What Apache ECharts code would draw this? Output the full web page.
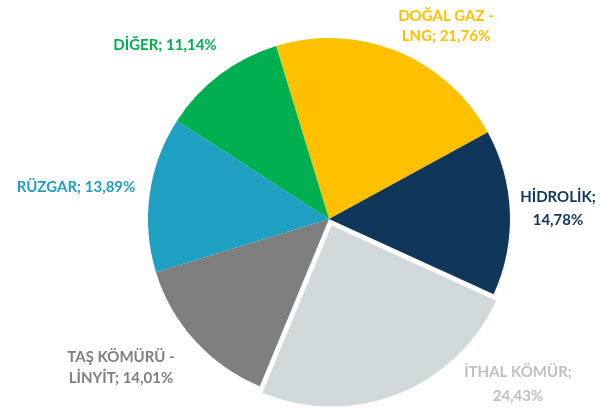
<!DOCTYPE html>
<html>
<head>
<meta charset="utf-8">
<script src="https://cdn.jsdelivr.net/npm/echarts@6/dist/echarts.min.js"></script>
<style>
  html, body { margin: 0; padding: 0; background: #fff; }
  #chart { width: 608px; height: 408px; }
</style>
</head>
<body>
<div id="chart"></div>
<script>
// veri
const names = ['DOĞAL GAZ -\nLNG', 'HİDROLİK', 'İTHAL KÖMÜR', 'TAŞ KÖMÜRÜ -\nLİNYİT', 'RÜZGAR', 'DİĞER'];
const values = [21.76, 14.78, 24.43, 14.01, 13.89, 11.14];
const valueText = ['21,76', '14,78', '24,43', '14,01', '13,89', '11,14'];
const colors = ['#FFC000', '#10375A', '#D1D9DB', '#7F7F7F', '#1F9FC2', '#00B050'];
const labelColors = ['#FFC000', '#10375A', '#BFBFBF', '#7F7F7F', '#1F9FC2', '#00B050'];
// etiket konumlari
const labelPos = [[446, 26], [558, 209], [518, 384], [121, 368], [76, 187], [165, 45]];
const lineHeights = [20, 23, 24, 21, 20, 20];

const chart = echarts.init(document.getElementById('chart'));

const labelText = i => {
    if (i === 1 || i === 2) return names[i] + ';\n' + valueText[i] + '%';
    return names[i] + '; ' + valueText[i] + '%';
};

// dilimler (ithal komur ayrik)
const sliceData = names.map((n, i) => ({
    name: n,
    value: values[i],
    selected: i === 2,
    itemStyle: { color: colors[i] },
    select: { itemStyle: { color: colors[i] } }
}));

// etiketler icin gorunmez ikinci seri
const labelData = names.map((n, i) => ({
    name: n,
    value: values[i],
    label: {
        color: labelColors[i],
        lineHeight: lineHeights[i],
        formatter: labelText(i)
    }
}));

const common = {
    type: 'pie',
    center: [329, 219],
    radius: 181,
    startAngle: 107,
    emphasis: { disabled: true }
};

chart.setOption({
    animation: false,
    series: [
        Object.assign({}, common, {
            selectedMode: 'single',
            selectedOffset: 7,
            data: sliceData,
            itemStyle: { borderWidth: 0 },
            label: { show: false },
            labelLine: { show: false }
        }),
        Object.assign({}, common, {
            silent: true,
            data: labelData,
            itemStyle: { color: 'rgba(0,0,0,0)', borderWidth: 0 },
            labelLine: { show: false },
            label: {
                show: true,
                position: 'outside',
                overflow: 'none',
                fontFamily: 'Lato',
                fontWeight: 'bold',
                fontSize: 15,
                align: 'center'
            },
            labelLayout: p => ({
                x: labelPos[p.dataIndex][0],
                y: labelPos[p.dataIndex][1],
                align: 'center',
                verticalAlign: 'middle'
            })
        })
    ]
});
</script>
</body>
</html>
